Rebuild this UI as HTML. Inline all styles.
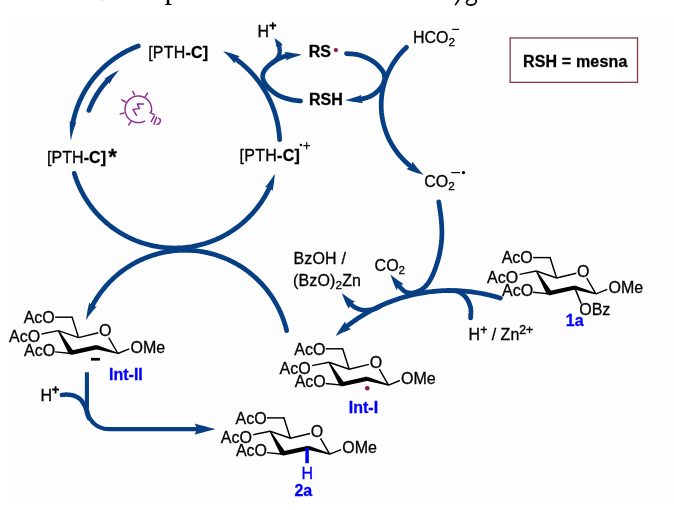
<!DOCTYPE html>
<html><head><meta charset="utf-8"><title>Mechanism</title>
<style>
html,body{margin:0;padding:0;background:#fff;}
body{width:674px;height:510px;overflow:hidden;position:relative;font-family:"Liberation Sans",sans-serif;}
#panel{position:absolute;left:8px;top:23px;width:666px;height:475px;background:#fdfdfd;}
#hdr{position:absolute;left:0;top:0;width:674px;height:22px;overflow:hidden;will-change:transform;}
#hdr span{position:absolute;font-family:"Liberation Serif",serif;color:#000;white-space:nowrap;}
svg{position:absolute;left:0;top:0;will-change:transform;}
svg text{font-family:"Liberation Sans",sans-serif;stroke-width:0.3px;paint-order:stroke;}
</style></head><body>
<div id="panel"></div>
<div id="hdr">
<span style="left:164.6px;top:-28.9px;font-size:31px;line-height:34px;">p</span>
<span style="left:101px;top:-2.5px;width:2px;height:3px;background:#ccc;border-radius:1px;"></span>
</div>
<svg width="674" height="510" viewBox="0 0 674 510">
<path d="M459.3 -1 L455.6 4.6" fill="none" stroke="#000" stroke-width="1.7" stroke-linecap="round"/>
<ellipse cx="471.4" cy="1.9" rx="4.9" ry="3.1" fill="none" stroke="#000" stroke-width="1.7" transform="rotate(-12 471.4 1.9)"/>
<path d="M138.37 45.97 L137.41 46.33 L136.45 46.70 L135.49 47.08 L134.54 47.48 L133.59 47.88 L132.64 48.29 L131.70 48.70 L130.77 49.13 L129.83 49.57 L128.91 50.02 L127.98 50.47 L127.06 50.94 L126.15 51.41 L125.24 51.90 L124.34 52.39 L123.44 52.89 L122.54 53.40 L121.65 53.92 L120.77 54.45 L119.89 54.99 L119.02 55.53 L118.15 56.09 L117.29 56.65 L116.43 57.22 L115.58 57.80 L114.74 58.39 L113.90 58.99 L113.06 59.59 L112.24 60.20 L111.42 60.83 L110.60 61.46 L109.79 62.09 L108.99 62.74 L108.20 63.39 L107.41 64.06 L106.62 64.73 L105.85 65.40 L105.08 66.09 L104.32 66.78 L103.56 67.48 L102.81 68.19 L102.07 68.90 L101.34 69.63 L100.61 70.36 L99.89 71.09 L99.18 71.84 L98.48 72.59 L97.78 73.35 L97.09 74.11 L96.41 74.88 L95.74 75.66 L95.07 76.45 L94.41 77.24 L93.76 78.04 L93.12 78.84 L92.49 79.65 L91.86 80.47 L91.24 81.30 L90.63 82.13 L90.03 82.96 L89.44 83.80 L88.85 84.65 L88.28 85.51 L87.71 86.36 L87.15 87.23 L86.60 88.10 L86.06 88.98 L85.52 89.86 L85.00 90.74 L84.49 91.63 L83.98 92.53 L83.48 93.43 L82.99 94.34 L82.51 95.25 L82.04 96.17 L81.58 97.09 L81.13 98.01 L80.69 98.94 L80.25 99.88 L79.83 100.81 L79.42 101.76 L79.01 102.70 L78.61 103.65 L78.23 104.61 L77.85 105.57 L77.48 106.53 L77.13 107.50 L76.78 108.46 L76.44 109.44 L76.11 110.41 L75.79 111.39 L75.48 112.37 L75.18 113.36 L74.89 114.35 L74.62 115.34 L74.35 116.33 L74.09 117.33 L73.84 118.33 L73.60 119.33 L73.37 120.33 L73.15 121.34 L72.94 122.35 L72.74 123.36 L72.55 124.35" fill="none" stroke="#063f84" stroke-width="4.75" stroke-linecap="round" stroke-linejoin="round"/>
<path d="M70.89 140.75 L70.70 139.34 L70.52 137.94 L70.36 136.52 L70.22 135.11 L70.10 133.69 L70.00 132.26 L69.92 130.83 L69.86 129.40 L69.82 127.95 L69.79 126.52 L69.79 125.08 L69.81 123.61 L69.85 122.17 L69.90 120.73 L72.64 123.86 L76.36 122.08 L75.86 123.36 L75.37 124.66 L74.90 125.93 L74.45 127.25 L74.01 128.57 L73.60 129.88 L73.20 131.21 L72.81 132.56 L72.45 133.89 L72.10 135.25 L71.77 136.62 L71.46 137.98 L71.17 139.36 L70.89 140.75Z" fill="#063f84"/>
<path d="M88.91 110.41 L89.06 110.02 L89.22 109.62 L89.37 109.22 L89.53 108.83 L89.69 108.43 L89.85 108.04 L90.01 107.65 L90.18 107.26 L90.35 106.86 L90.52 106.47 L90.69 106.08 L90.86 105.69 L91.03 105.31 L91.21 104.92 L91.39 104.53 L91.57 104.15 L91.75 103.76 L91.93 103.38 L92.12 102.99 L92.30 102.61 L92.49 102.23 L92.68 101.85 L92.88 101.47 L93.07 101.09 L93.27 100.71 L93.46 100.34 L93.66 99.96 L93.86 99.59 L94.07 99.21 L94.27 98.84 L94.48 98.47 L94.69 98.10 L94.90 97.72 L95.11 97.36 L95.32 96.99 L95.53 96.62 L95.75 96.25 L95.97 95.89 L96.19 95.52 L96.41 95.16 L96.64 94.80 L96.86 94.44 L97.09 94.08 L97.32 93.72 L97.55 93.36 L97.78 93.00 L98.01 92.65 L98.25 92.29 L98.48 91.94 L98.72 91.59 L98.96 91.23 L99.20 90.88 L99.45 90.54 L99.69 90.19 L99.94 89.84 L100.19 89.49 L100.44 89.15 L100.69 88.81 L100.94 88.46 L101.19 88.12 L101.45 87.78 L101.71 87.44 L101.97 87.11 L102.23 86.77 L102.49 86.44 L102.76 86.10 L103.02 85.77 L103.29 85.44 L103.56 85.11 L103.83 84.78 L104.10 84.45 L104.37 84.13 L104.65 83.80 L104.92 83.48 L105.20 83.15 L105.48 82.83 L105.76 82.51 L106.04 82.20 L106.33 81.88 L106.61 81.56 L106.90 81.25 L107.19 80.93 L107.48 80.62 L107.77 80.31 L108.06 80.00 L108.33 79.72" fill="none" stroke="#063f84" stroke-width="4.75" stroke-linecap="round" stroke-linejoin="round"/>
<path d="M119.16 70.09 L118.35 71.03 L117.56 71.98 L116.79 72.94 L116.03 73.91 L115.28 74.88 L114.56 75.86 L113.84 76.86 L113.14 77.85 L112.46 78.86 L111.80 79.86 L111.15 80.88 L110.52 81.90 L109.90 82.93 L109.29 83.97 L107.99 80.08 L103.97 79.12 L105.00 78.38 L106.05 77.64 L107.11 76.91 L108.18 76.21 L109.25 75.52 L110.33 74.85 L111.41 74.19 L112.50 73.56 L113.60 72.94 L114.70 72.34 L115.81 71.75 L116.92 71.18 L118.04 70.63 L119.16 70.09Z" fill="#063f84"/>
<path d="M74.32 173.39 L74.98 175.52 L75.69 177.63 L76.44 179.73 L77.24 181.81 L78.08 183.87 L78.97 185.92 L79.90 187.95 L80.87 189.95 L81.88 191.94 L82.94 193.90 L84.04 195.84 L85.18 197.76 L86.36 199.65 L87.58 201.51 L88.83 203.35 L90.13 205.17 L91.47 206.95 L92.84 208.71 L94.25 210.43 L95.70 212.13 L97.19 213.79 L98.70 215.42 L100.26 217.02 L101.84 218.59 L103.46 220.12 L105.11 221.62 L106.80 223.08 L108.51 224.51 L110.26 225.89 L112.03 227.25 L113.83 228.56 L115.66 229.83 L117.52 231.07 L119.40 232.26 L121.30 233.42 L123.23 234.53 L125.19 235.61 L127.16 236.64 L129.16 237.63 L131.18 238.57 L133.22 239.48 L135.28 240.34 L137.35 241.15 L139.44 241.92 L141.55 242.65 L143.67 243.33 L145.81 243.96 L147.96 244.55 L150.12 245.10 L152.30 245.60 L154.48 246.05 L156.67 246.45 L158.87 246.81 L161.08 247.12 L163.29 247.39 L165.51 247.60 L167.73 247.77 L169.96 247.90 L172.19 247.97 L174.42 248.00 L176.65 247.98 L178.87 247.91 L181.10 247.80 L183.32 247.64 L185.54 247.43 L187.76 247.17 L189.97 246.87 L192.17 246.52 L194.36 246.12 L196.55 245.67 L198.72 245.18 L200.89 244.65 L203.04 244.06 L205.18 243.44 L207.30 242.76 L209.41 242.04 L211.51 241.28 L213.58 240.47 L215.64 239.62 L217.69 238.72 L219.71 237.78 L221.71 236.80 L223.69 235.78 L225.65 234.71 L227.58 233.61 L229.49 232.46 L231.38 231.27 L233.24 230.04 L235.07 228.77 L236.88 227.46 L238.66 226.12 L240.40 224.74 L242.12 223.32 L243.81 221.86 L245.47 220.37 L247.09 218.84 L248.69 217.28 L250.24 215.69 L251.77 214.06 L253.26 212.40 L254.71 210.71 L256.13 208.99 L257.51 207.24 L258.85 205.46 L260.16 203.65 L261.42 201.82 L262.65 199.96 L263.83 198.07 L264.98 196.16 L266.08 194.22 L267.15 192.26 L268.17 190.28 L269.15 188.28 L269.78 186.91" fill="none" stroke="#063f84" stroke-width="4.75" stroke-linecap="round" stroke-linejoin="round"/>
<path d="M274.78 173.74 L274.71 174.96 L274.63 176.19 L274.53 177.41 L274.42 178.65 L274.30 179.87 L274.16 181.12 L274.01 182.33 L273.83 183.59 L273.65 184.80 L273.44 186.06 L273.24 187.27 L272.99 188.54 L272.77 189.74 L272.48 191.01 L269.57 187.36 L264.94 187.32 L265.69 186.46 L266.46 185.51 L267.19 184.63 L267.94 183.66 L268.66 182.74 L269.39 181.76 L270.09 180.81 L270.80 179.82 L271.48 178.84 L272.17 177.83 L272.83 176.83 L273.49 175.80 L274.14 174.78 L274.78 173.74Z" fill="#063f84"/>
<path d="M279.60 139.71 L279.56 138.79 L279.50 137.88 L279.44 136.96 L279.37 136.05 L279.29 135.14 L279.20 134.23 L279.11 133.31 L279.00 132.40 L278.89 131.49 L278.77 130.58 L278.65 129.68 L278.51 128.77 L278.37 127.87 L278.22 126.96 L278.06 126.06 L277.90 125.16 L277.73 124.26 L277.54 123.36 L277.35 122.46 L277.16 121.57 L276.95 120.67 L276.74 119.78 L276.52 118.89 L276.29 118.01 L276.06 117.12 L275.81 116.24 L275.56 115.35 L275.31 114.48 L275.04 113.60 L274.77 112.72 L274.48 111.85 L274.20 110.98 L273.90 110.11 L273.60 109.25 L273.28 108.39 L272.97 107.53 L272.64 106.67 L272.31 105.82 L271.96 104.97 L271.62 104.12 L271.26 103.28 L270.90 102.44 L270.53 101.60 L270.15 100.76 L269.76 99.93 L269.37 99.10 L268.97 98.28 L268.57 97.46 L268.15 96.64 L267.73 95.82 L267.30 95.01 L266.87 94.21 L266.43 93.40 L265.98 92.61 L265.52 91.81 L265.06 91.02 L264.59 90.23 L264.11 89.45 L263.63 88.67 L263.14 87.90 L262.65 87.13 L262.14 86.36 L261.63 85.60 L261.12 84.84 L260.59 84.09 L260.06 83.34 L259.53 82.60 L258.99 81.86 L258.44 81.12 L257.88 80.39 L257.32 79.67 L256.75 78.95 L256.18 78.24 L255.60 77.53 L255.01 76.82 L254.42 76.12 L253.82 75.43 L253.22 74.74 L252.61 74.06 L251.99 73.38 L251.37 72.71 L250.74 72.04 L250.11 71.38 L249.47 70.72 L248.82 70.07 L248.17 69.42 L247.52 68.78 L246.86 68.15 L246.19 67.52 L245.52 66.90 L244.84 66.28 L244.15 65.67 L243.47 65.07 L242.77 64.47 L242.07 63.88 L241.37 63.29 L240.66 62.71 L239.95 62.14 L239.23 61.57 L238.50 61.01 L237.77 60.45 L237.04 59.90 L236.30 59.36 L235.56 58.82 L235.10 58.50" fill="none" stroke="#063f84" stroke-width="4.75" stroke-linecap="round" stroke-linejoin="round"/>
<path d="M223.08 51.15 L224.27 51.44 L225.46 51.74 L226.65 52.05 L227.85 52.38 L229.04 52.73 L230.22 53.08 L231.42 53.46 L232.61 53.85 L233.79 54.25 L234.96 54.67 L236.16 55.12 L237.33 55.56 L238.50 56.02 L239.70 56.52 L235.51 58.79 L234.55 63.41 L233.83 62.50 L233.07 61.58 L232.30 60.67 L231.54 59.77 L230.75 58.87 L229.94 57.98 L229.12 57.10 L228.31 56.23 L227.46 55.36 L226.61 54.50 L225.75 53.65 L224.87 52.81 L223.98 51.98 L223.08 51.15Z" fill="#063f84"/>
<path d="M144.54 121.04 L143.84 121.39 L143.11 121.70 L142.37 121.96 L141.61 122.18 L140.84 122.36 L140.06 122.48 L139.27 122.56 L138.49 122.60 L137.70 122.59 L136.91 122.53 L136.13 122.42 L135.35 122.27 L134.59 122.07 L133.84 121.83 L133.10 121.54 L132.39 121.21 L131.69 120.84 L131.02 120.43 L130.37 119.98 L129.75 119.49 L129.16 118.96 L128.60 118.40 L128.08 117.81 L127.59 117.19 L127.15 116.54 L126.74 115.87 L126.37 115.17 L126.04 114.45 L125.76 113.72 L125.52 112.97 L125.32 112.20 L125.17 111.43 L125.07 110.64 L125.01 109.86 L125.00 109.07 L125.04 108.28 L125.12 107.49 L125.25 106.72 L125.43 105.95 L125.65 105.19 L125.92 104.45 L126.23 103.72 L126.58 103.02 L126.97 102.33 L127.41 101.67 L127.88 101.04 L128.39 100.44 L128.93 99.86 L129.50 99.32 L130.11 98.82 L130.75 98.35 L131.41 97.92 L132.10 97.54 L132.81 97.19 L133.53 96.88 L134.28 96.62 L135.04 96.41 L135.81 96.24 L136.59 96.11 L137.37 96.03 L138.16 96.00 L138.95 96.02 L139.74 96.08 L140.52 96.19 L141.29 96.34 L142.06 96.54 L142.81 96.79 L143.54 97.08 L144.26 97.41 L144.95 97.78 L145.62 98.20 L146.27 98.65 L146.88 99.14 L147.47 99.67 L148.03 100.23 L148.55 100.82 L149.03 101.44 L149.48 102.10 L149.89 102.77 L150.25 103.47 L150.58 104.19 L150.86 104.93 L151.10 105.68 L151.29 106.44 L151.44 107.22 L151.54 108.00 L151.59 108.79 L151.60 109.58 L151.56 110.37 L151.47 111.15" fill="none" stroke="#8c2a8e" stroke-width="1.45" stroke-linecap="round" stroke-linejoin="round"/>
<path d="M151.40 111.40 L150.20 112.60 L154.20 114.60" fill="none" stroke="#8c2a8e" stroke-width="1.45" stroke-linecap="round" stroke-linejoin="round"/>
<path d="M151.30 121.60 L154.20 116.20" fill="none" stroke="#8c2a8e" stroke-width="1.45" stroke-linecap="round" stroke-linejoin="round"/>
<path d="M154.00 124.20 L156.60 117.20" fill="none" stroke="#8c2a8e" stroke-width="1.45" stroke-linecap="round" stroke-linejoin="round"/>
<path d="M157.00 124.40 L158.60 124.00 L160.40 121.40 L160.20 119.40 L158.80 118.20" fill="none" stroke="#8c2a8e" stroke-width="1.45" stroke-linecap="round" stroke-linejoin="round"/>
<path d="M143.40 103.90 L137.30 103.90 L139.40 108.60 L133.00 109.40 L136.50 115.30" fill="none" stroke="#8c2a8e" stroke-width="1.45" stroke-linecap="round" stroke-linejoin="round"/>
<path d="M132.90 91.40 L134.50 94.90" fill="none" stroke="#8c2a8e" stroke-width="1.45" stroke-linecap="round" stroke-linejoin="round"/>
<path d="M147.60 93.20 L145.10 96.80" fill="none" stroke="#8c2a8e" stroke-width="1.45" stroke-linecap="round" stroke-linejoin="round"/>
<path d="M121.80 99.80 L125.60 102.00" fill="none" stroke="#8c2a8e" stroke-width="1.45" stroke-linecap="round" stroke-linejoin="round"/>
<path d="M120.20 114.10 L124.10 112.90" fill="none" stroke="#8c2a8e" stroke-width="1.45" stroke-linecap="round" stroke-linejoin="round"/>
<path d="M128.60 124.90 L130.90 121.80" fill="none" stroke="#8c2a8e" stroke-width="1.45" stroke-linecap="round" stroke-linejoin="round"/>
<path d="M300.60 101.00 L300.39 100.97 L300.15 100.94 L299.89 100.91 L299.60 100.88 L299.28 100.85 L298.95 100.82 L298.59 100.78 L298.22 100.74 L297.83 100.70 L297.43 100.66 L297.01 100.62 L296.59 100.57 L296.15 100.52 L295.71 100.46 L295.26 100.41 L294.80 100.34 L294.34 100.28 L293.88 100.21 L293.42 100.14 L292.97 100.06 L292.52 99.98 L292.07 99.89 L291.63 99.80 L291.20 99.70 L290.77 99.60 L290.33 99.49 L289.88 99.38 L289.43 99.27 L288.97 99.15 L288.50 99.02 L288.03 98.90 L287.55 98.77 L287.07 98.63 L286.59 98.49 L286.11 98.35 L285.63 98.21 L285.15 98.06 L284.67 97.90 L284.20 97.75 L283.73 97.59 L283.26 97.43 L282.80 97.26 L282.34 97.09 L281.90 96.92 L281.46 96.74 L281.03 96.57 L280.61 96.38 L280.20 96.20 L279.80 96.01 L279.41 95.82 L279.02 95.63 L278.64 95.43 L278.27 95.22 L277.90 95.02 L277.53 94.81 L277.17 94.60 L276.82 94.38 L276.46 94.16 L276.12 93.94 L275.77 93.71 L275.44 93.48 L275.10 93.25 L274.77 93.02 L274.44 92.78 L274.12 92.54 L273.79 92.30 L273.47 92.06 L273.15 91.81 L272.84 91.56 L272.52 91.31 L272.21 91.06 L271.90 90.80 L271.59 90.54 L271.28 90.28 L270.97 90.01 L270.65 89.73 L270.34 89.45 L270.03 89.17 L269.73 88.89 L269.42 88.60 L269.12 88.30 L268.82 88.01 L268.53 87.72 L268.24 87.42 L267.95 87.12 L267.67 86.82 L267.40 86.52 L267.13 86.23 L266.87 85.93 L266.62 85.63 L266.38 85.34 L266.14 85.04 L265.92 84.75 L265.70 84.47 L265.50 84.18 L265.30 83.90 L265.11 83.62 L264.94 83.34 L264.77 83.06 L264.61 82.78 L264.45 82.50 L264.30 82.23 L264.17 81.95 L264.03 81.67 L263.91 81.39 L263.79 81.12 L263.68 80.84 L263.57 80.57 L263.48 80.30 L263.39 80.02 L263.30 79.75 L263.22 79.49 L263.15 79.22 L263.08 78.95 L263.02 78.69 L262.97 78.43 L262.92 78.17 L262.87 77.91 L262.83 77.65 L262.80 77.40 L262.77 77.15 L262.75 76.90 L262.74 76.66 L262.73 76.41 L262.72 76.17 L262.73 75.93 L262.74 75.69 L262.76 75.46 L262.78 75.23 L262.81 74.99 L262.84 74.76 L262.88 74.53 L262.93 74.30 L262.98 74.07 L263.04 73.85 L263.10 73.62 L263.17 73.39 L263.24 73.16 L263.32 72.94 L263.41 72.71 L263.50 72.48 L263.59 72.26 L263.69 72.03 L263.80 71.80 L263.91 71.57 L264.03 71.34 L264.16 71.11 L264.29 70.88 L264.43 70.65 L264.58 70.42 L264.73 70.19 L264.89 69.96 L265.06 69.73 L265.23 69.51 L265.40 69.28 L265.58 69.05 L265.77 68.82 L265.95 68.60 L266.15 68.37 L266.34 68.15 L266.54 67.93 L266.74 67.70 L266.95 67.48 L267.15 67.26 L267.36 67.04 L267.57 66.83 L267.79 66.61 L268.00 66.40 L268.22 66.19 L268.44 65.97 L268.67 65.76 L268.91 65.55 L269.15 65.34 L269.39 65.13 L269.64 64.92 L269.89 64.71 L270.15 64.50 L270.41 64.29 L270.67 64.09 L270.93 63.88 L271.20 63.68 L271.46 63.48 L271.73 63.28 L272.00 63.08 L272.26 62.89 L272.53 62.69 L272.80 62.50 L273.06 62.32 L273.32 62.13 L273.59 61.95 L273.84 61.77 L274.10 61.60 L274.35 61.43 L274.61 61.26 L274.86 61.09 L275.11 60.93 L275.36 60.76 L275.60 60.60 L275.85 60.44 L276.10 60.29 L276.35 60.14 L276.60 59.98 L276.84 59.83 L277.09 59.69 L277.34 59.54 L277.59 59.40 L277.85 59.26 L278.10 59.12 L278.35 58.99 L278.61 58.85 L278.87 58.72 L279.13 58.59 L279.39 58.47 L279.66 58.34 L279.93 58.22 L280.20 58.10 L280.47 57.98 L280.73 57.87 L280.98 57.76 L281.22 57.65 L281.47 57.54 L281.70 57.44 L281.94 57.33 L282.18 57.23 L282.42 57.14 L282.66 57.04 L282.90 56.95 L283.16 56.86 L283.42 56.77 L283.68 56.68 L283.96 56.59 L284.26 56.51 L284.56 56.43 L284.88 56.35 L285.22 56.27 L285.57 56.19 L285.95 56.12 L286.34 56.04 L286.76 55.97 L287.20 55.90 L287.55 55.85" fill="none" stroke="#063f84" stroke-width="4.75" stroke-linecap="round" stroke-linejoin="round"/>
<path d="M302.00 54.70 L300.81 55.09 L299.62 55.46 L298.42 55.84 L297.23 56.22 L296.04 56.60 L294.86 56.98 L293.68 57.37 L292.50 57.76 L291.33 58.16 L290.19 58.56 L289.07 58.98 L288.00 59.42 L287.00 59.89 L286.04 60.39 L287.05 55.92 L284.14 52.21 L285.56 52.22 L286.96 52.30 L288.30 52.43 L289.59 52.59 L290.86 52.78 L292.12 52.97 L293.36 53.18 L294.60 53.39 L295.84 53.60 L297.07 53.82 L298.31 54.04 L299.54 54.27 L300.77 54.49 L302.00 54.70Z" fill="#063f84"/>
<path d="M272.00 63.20 L272.09 63.12 L272.20 63.04 L272.32 62.94 L272.45 62.83 L272.60 62.72 L272.75 62.59 L272.92 62.46 L273.09 62.33 L273.27 62.18 L273.45 62.03 L273.64 61.88 L273.84 61.73 L274.03 61.57 L274.23 61.40 L274.43 61.24 L274.62 61.07 L274.82 60.91 L275.00 60.74 L275.19 60.58 L275.37 60.42 L275.54 60.26 L275.70 60.10 L275.86 59.95 L276.00 59.80 L276.14 59.65 L276.27 59.51 L276.40 59.36 L276.53 59.21 L276.66 59.06 L276.79 58.91 L276.91 58.76 L277.03 58.61 L277.15 58.46 L277.27 58.31 L277.38 58.16 L277.49 58.01 L277.60 57.86 L277.71 57.71 L277.81 57.56 L277.91 57.41 L278.01 57.26 L278.10 57.10 L278.19 56.95 L278.28 56.80 L278.37 56.65 L278.45 56.50 L278.53 56.35 L278.60 56.20 L278.67 56.05 L278.74 55.90 L278.80 55.75 L278.86 55.59 L278.91 55.44 L278.96 55.29 L279.01 55.13 L279.05 54.98 L279.09 54.82 L279.13 54.67 L279.17 54.52 L279.20 54.36 L279.23 54.21 L279.26 54.06 L279.29 53.91 L279.31 53.76 L279.34 53.61 L279.36 53.46 L279.39 53.31 L279.41 53.17 L279.43 53.02 L279.45 52.88 L279.48 52.74 L279.50 52.60 L279.52 52.46 L279.54 52.33 L279.57 52.21 L279.59 52.08 L279.60 51.97 L279.62 51.85 L279.64 51.73 L279.66 51.62 L279.67 51.51 L279.68 51.39 L279.70 51.28 L279.71 51.17 L279.72 51.06 L279.72 50.94 L279.73 50.82 L279.73 50.70 L279.74 50.58 L279.74 50.46 L279.74 50.33 L279.73 50.19 L279.73 50.05 L279.72 49.91 L279.71 49.76 L279.70 49.60 L279.69 49.44 L279.67 49.26 L279.66 49.08 L279.64 48.90 L279.62 48.70 L279.60 48.51 L279.57 48.31 L279.55 48.10 L279.52 47.89 L279.49 47.68 L279.46 47.47 L279.43 47.26 L279.40 47.04 L279.36 46.83 L279.32 46.62 L279.29 46.41 L279.24 46.20 L279.20 46.00 L279.16 45.80 L279.11 45.61 L279.06 45.42 L279.01 45.24 L278.96 45.07 L278.90 44.90 L278.86 44.79" fill="none" stroke="#063f84" stroke-width="4.40" stroke-linecap="round" stroke-linejoin="round"/>
<path d="M274.50 38.10 L275.09 38.52 L275.68 38.94 L276.27 39.36 L276.86 39.78 L277.45 40.21 L278.04 40.64 L278.61 41.06 L279.16 41.41 L279.78 41.83 L280.46 42.39 L281.12 43.08 L281.76 43.98 L282.24 44.75 L282.68 45.55 L279.02 45.27 L275.82 46.92 L275.96 46.40 L276.06 45.87 L276.19 45.51 L276.20 45.01 L276.12 44.45 L275.94 43.77 L275.71 43.02 L275.53 42.30 L275.37 41.60 L275.20 40.90 L275.03 40.20 L274.85 39.50 L274.68 38.80 L274.50 38.10Z" fill="#063f84"/>
<path d="M346.50 53.60 L346.79 53.63 L347.12 53.66 L347.49 53.68 L347.89 53.71 L348.33 53.73 L348.80 53.76 L349.29 53.78 L349.81 53.81 L350.36 53.84 L350.92 53.88 L351.50 53.91 L352.09 53.96 L352.70 54.00 L353.32 54.06 L353.94 54.12 L354.56 54.19 L355.19 54.27 L355.82 54.35 L356.44 54.45 L357.05 54.55 L357.66 54.67 L358.26 54.80 L358.84 54.94 L359.40 55.10 L359.96 55.27 L360.53 55.45 L361.11 55.64 L361.69 55.84 L362.28 56.06 L362.88 56.28 L363.48 56.51 L364.09 56.75 L364.69 57.00 L365.29 57.26 L365.90 57.52 L366.50 57.79 L367.10 58.07 L367.69 58.35 L368.28 58.64 L368.86 58.94 L369.43 59.23 L369.99 59.54 L370.55 59.84 L371.09 60.15 L371.61 60.46 L372.12 60.77 L372.62 61.09 L373.10 61.40 L373.57 61.72 L374.03 62.05 L374.49 62.39 L374.94 62.74 L375.38 63.10 L375.81 63.47 L376.24 63.84 L376.66 64.22 L377.07 64.60 L377.47 64.99 L377.87 65.37 L378.25 65.76 L378.62 66.15 L378.99 66.54 L379.34 66.93 L379.69 67.31 L380.02 67.70 L380.34 68.07 L380.65 68.45 L380.94 68.81 L381.23 69.17 L381.50 69.53 L381.76 69.87 L382.00 70.20 L382.23 70.52 L382.45 70.84 L382.65 71.14 L382.84 71.44 L383.02 71.73 L383.19 72.01 L383.35 72.29 L383.49 72.57 L383.63 72.84 L383.75 73.11 L383.86 73.38 L383.96 73.65 L384.05 73.92 L384.14 74.19 L384.21 74.46 L384.27 74.73 L384.33 75.01 L384.38 75.29 L384.42 75.57 L384.45 75.86 L384.47 76.16 L384.49 76.46 L384.50 76.78 L384.50 77.10 L384.50 77.43 L384.49 77.77 L384.47 78.11 L384.45 78.46 L384.42 78.81 L384.38 79.17 L384.33 79.53 L384.27 79.89 L384.21 80.26 L384.14 80.63 L384.05 81.01 L383.96 81.38 L383.86 81.76 L383.75 82.14 L383.63 82.52 L383.49 82.90 L383.35 83.28 L383.19 83.66 L383.02 84.03 L382.84 84.41 L382.65 84.79 L382.45 85.16 L382.23 85.53 L382.00 85.90 L381.75 86.27 L381.49 86.65 L381.21 87.03 L380.92 87.42 L380.61 87.81 L380.29 88.21 L379.96 88.60 L379.61 89.00 L379.25 89.40 L378.89 89.79 L378.51 90.19 L378.12 90.58 L377.73 90.97 L377.33 91.35 L376.92 91.73 L376.51 92.10 L376.09 92.46 L375.67 92.82 L375.25 93.16 L374.82 93.49 L374.39 93.82 L373.96 94.12 L373.53 94.42 L373.10 94.70 L372.67 94.97 L372.24 95.23 L371.80 95.47 L371.36 95.71 L370.92 95.94 L370.48 96.16 L370.02 96.38 L369.57 96.58 L369.11 96.78 L368.65 96.97 L368.18 97.15 L367.70 97.33 L367.22 97.49 L366.73 97.66 L366.23 97.81 L365.73 97.96 L365.22 98.11 L364.70 98.25 L364.17 98.38 L363.64 98.51 L363.09 98.64 L362.54 98.76 L361.97 98.88 L361.40 99.00 L360.80 99.11 L360.16 99.21 L359.77 99.27" fill="none" stroke="#063f84" stroke-width="4.75" stroke-linecap="round" stroke-linejoin="round"/>
<path d="M345.30 100.20 L346.50 99.83 L347.70 99.48 L348.90 99.13 L350.10 98.78 L351.30 98.43 L352.49 98.07 L353.67 97.71 L354.83 97.33 L356.00 96.95 L357.13 96.55 L358.27 96.13 L359.34 95.69 L360.33 95.23 L361.36 94.72 L360.26 99.20 L363.10 102.94 L361.74 102.90 L360.33 102.82 L358.99 102.69 L357.71 102.52 L356.42 102.33 L355.17 102.12 L353.91 101.90 L352.67 101.67 L351.43 101.43 L350.20 101.18 L348.97 100.93 L347.75 100.68 L346.53 100.43 L345.30 100.20Z" fill="#063f84"/>
<path d="M406.53 47.29 L405.62 48.15 L404.71 49.02 L403.82 49.90 L402.95 50.81 L402.09 51.72 L401.24 52.65 L400.41 53.59 L399.59 54.54 L398.79 55.51 L398.01 56.49 L397.24 57.48 L396.49 58.49 L395.75 59.50 L395.03 60.53 L394.33 61.57 L393.64 62.62 L392.97 63.68 L392.32 64.76 L391.68 65.84 L391.06 66.93 L390.46 68.03 L389.88 69.15 L389.31 70.27 L388.77 71.40 L388.24 72.53 L387.73 73.68 L387.23 74.84 L386.76 76.00 L386.31 77.17 L385.87 78.35 L385.45 79.53 L385.05 80.72 L384.67 81.92 L384.31 83.12 L383.97 84.33 L383.65 85.54 L383.35 86.76 L383.07 87.98 L382.81 89.21 L382.56 90.44 L382.34 91.68 L382.14 92.92 L381.95 94.16 L381.79 95.40 L381.65 96.65 L381.52 97.90 L381.42 99.15 L381.33 100.41 L381.27 101.66 L381.23 102.91 L381.20 104.17 L381.20 105.42 L381.22 106.68 L381.25 107.93 L381.31 109.19 L381.39 110.44 L381.49 111.69 L381.60 112.94 L381.74 114.19 L381.90 115.44 L382.07 116.68 L382.27 117.92 L382.49 119.16 L382.73 120.39 L382.98 121.62 L383.26 122.84 L383.55 124.06 L383.87 125.28 L384.20 126.49 L384.56 127.69 L384.93 128.89 L385.32 130.08 L385.73 131.27 L386.16 132.45 L386.61 133.62 L387.08 134.79 L387.57 135.94 L388.07 137.09 L388.59 138.24 L389.13 139.37 L389.69 140.49 L390.27 141.61 L390.87 142.71 L391.48 143.81 L392.11 144.89 L392.76 145.97 L393.42 147.03 L394.10 148.09 L394.80 149.13 L395.52 150.16 L396.25 151.18 L397.00 152.19 L397.76 153.19 L398.54 154.17 L399.33 155.15 L400.14 156.10 L400.97 157.05 L401.81 157.98 L402.67 158.90 L403.54 159.80 L404.42 160.70 L405.32 161.57 L406.23 162.43 L407.16 163.28 L408.10 164.11 L409.05 164.93 L410.02 165.73 L411.00 166.52 L411.44 166.86" fill="none" stroke="#063f84" stroke-width="4.75" stroke-linecap="round" stroke-linejoin="round"/>
<path d="M423.64 174.67 L422.41 174.41 L421.17 174.12 L419.94 173.82 L418.70 173.49 L417.47 173.14 L416.23 172.77 L415.00 172.37 L413.77 171.96 L412.54 171.52 L411.31 171.06 L410.09 170.57 L408.86 170.07 L407.65 169.54 L406.43 168.99 L411.05 166.56 L412.56 161.60 L413.23 162.59 L413.91 163.57 L414.62 164.55 L415.34 165.51 L416.09 166.47 L416.85 167.42 L417.63 168.36 L418.43 169.29 L419.25 170.21 L420.09 171.13 L420.95 172.03 L421.83 172.92 L422.73 173.80 L423.64 174.67Z" fill="#063f84"/>
<path d="M438.80 201.80 L438.86 202.20 L438.92 202.65 L439.00 203.16 L439.08 203.71 L439.17 204.32 L439.27 204.96 L439.38 205.64 L439.49 206.36 L439.60 207.11 L439.72 207.88 L439.84 208.68 L439.96 209.49 L440.08 210.33 L440.21 211.17 L440.33 212.02 L440.44 212.87 L440.56 213.73 L440.67 214.58 L440.78 215.42 L440.88 216.26 L440.97 217.07 L441.06 217.87 L441.13 218.65 L441.20 219.40 L441.26 220.14 L441.32 220.87 L441.38 221.61 L441.44 222.35 L441.49 223.08 L441.55 223.82 L441.60 224.56 L441.64 225.30 L441.69 226.03 L441.73 226.77 L441.77 227.51 L441.80 228.25 L441.83 228.99 L441.85 229.73 L441.87 230.47 L441.89 231.20 L441.90 231.94 L441.90 232.68 L441.90 233.42 L441.89 234.15 L441.88 234.89 L441.86 235.63 L441.83 236.36 L441.80 237.10 L441.76 237.84 L441.71 238.57 L441.66 239.31 L441.60 240.06 L441.54 240.80 L441.47 241.54 L441.40 242.28 L441.32 243.03 L441.23 243.77 L441.14 244.51 L441.05 245.25 L440.95 245.99 L440.85 246.73 L440.74 247.47 L440.62 248.21 L440.50 248.94 L440.38 249.67 L440.25 250.40 L440.12 251.13 L439.99 251.85 L439.84 252.57 L439.70 253.28 L439.55 253.99 L439.40 254.70 L439.24 255.41 L439.08 256.11 L438.91 256.82 L438.73 257.53 L438.54 258.24 L438.35 258.95 L438.16 259.66 L437.96 260.37 L437.75 261.08 L437.55 261.78 L437.33 262.48 L437.12 263.17 L436.90 263.86 L436.68 264.54 L436.46 265.22 L436.23 265.89 L436.00 266.55 L435.77 267.20 L435.55 267.84 L435.32 268.48 L435.09 269.10 L434.86 269.71 L434.63 270.31 L434.40 270.90 L434.17 271.48 L433.94 272.05 L433.72 272.61 L433.48 273.16 L433.25 273.71 L433.02 274.24 L432.79 274.77 L432.55 275.29 L432.31 275.81 L432.08 276.31 L431.84 276.81 L431.59 277.30 L431.35 277.78 L431.10 278.26 L430.85 278.73 L430.60 279.19 L430.35 279.64 L430.09 280.08 L429.84 280.52 L429.57 280.95 L429.31 281.37 L429.04 281.79 L428.77 282.20 L428.50 282.60 L428.22 282.99 L427.94 283.38 L427.66 283.76 L427.37 284.13 L427.07 284.50 L426.78 284.86 L426.48 285.21 L426.17 285.55 L425.87 285.89 L425.56 286.22 L425.25 286.54 L424.94 286.85 L424.63 287.16 L424.32 287.45 L424.01 287.74 L423.69 288.03 L423.38 288.30 L423.06 288.57 L422.75 288.83 L422.44 289.08 L422.13 289.32 L421.82 289.55 L421.51 289.78 L421.20 290.00 L420.89 290.21 L420.56 290.41 L420.23 290.60 L419.89 290.78 L419.54 290.95 L419.18 291.11 L418.83 291.26 L418.47 291.41 L418.11 291.54 L417.75 291.67 L417.39 291.80 L417.04 291.91 L416.70 292.02 L416.36 292.13 L416.04 292.22 L415.72 292.31 L415.42 292.40 L415.13 292.48 L414.86 292.56 L414.61 292.64 L414.37 292.71 L414.16 292.77 L413.97 292.84 L413.80 292.90" fill="none" stroke="#063f84" stroke-width="4.75" stroke-linecap="round" stroke-linejoin="round"/>
<path d="M421.20 290.00 L421.03 290.07 L420.85 290.15 L420.64 290.25 L420.41 290.37 L420.17 290.49 L419.90 290.62 L419.63 290.76 L419.33 290.91 L419.03 291.06 L418.71 291.22 L418.39 291.38 L418.05 291.54 L417.71 291.69 L417.36 291.85 L417.00 292.00 L416.64 292.14 L416.28 292.28 L415.92 292.41 L415.56 292.53 L415.20 292.63 L414.84 292.72 L414.49 292.80 L414.14 292.86 L413.80 292.90 L413.46 292.93 L413.11 292.95 L412.76 292.97 L412.40 292.98 L412.03 292.99 L411.67 292.99 L411.29 292.99 L410.92 292.97 L410.54 292.95 L410.16 292.93 L409.78 292.89 L409.40 292.84 L409.02 292.79 L408.64 292.73 L408.26 292.65 L407.88 292.57 L407.51 292.48 L407.13 292.37 L406.77 292.26 L406.40 292.13 L406.04 291.99 L405.69 291.84 L405.34 291.68 L405.00 291.50 L404.66 291.31 L404.33 291.10 L404.01 290.88 L403.68 290.64 L403.36 290.39 L403.05 290.12 L402.73 289.85 L402.42 289.56 L402.11 289.26 L401.81 288.95 L401.50 288.64 L401.20 288.31 L400.90 287.98 L400.60 287.64 L400.30 287.30 L400.00 286.95 L399.70 286.60 L399.40 286.25 L399.10 285.89 L398.81 285.53 L398.51 285.17 L398.44 285.09" fill="none" stroke="#063f84" stroke-width="4.60" stroke-linecap="round" stroke-linejoin="round"/>
<path d="M390.40 274.50 L391.35 275.23 L392.29 275.96 L393.23 276.69 L394.17 277.42 L395.11 278.14 L396.05 278.85 L396.99 279.55 L397.93 280.23 L398.88 280.90 L399.82 281.52 L400.79 282.15 L401.80 282.83 L402.78 283.48 L403.74 284.09 L398.76 285.47 L396.61 290.22 L396.10 289.09 L395.61 287.99 L395.15 286.92 L394.64 285.80 L394.14 284.65 L393.68 283.51 L393.24 282.38 L392.81 281.25 L392.40 280.12 L391.99 278.99 L391.59 277.87 L391.20 276.74 L390.80 275.62 L390.40 274.50Z" fill="#063f84"/>
<path d="M500.43 298.17 L499.01 297.74 L497.60 297.31 L496.18 296.90 L494.76 296.51 L493.33 296.12 L491.90 295.75 L490.47 295.39 L489.04 295.05 L487.60 294.71 L486.15 294.39 L484.71 294.08 L483.26 293.79 L481.81 293.50 L480.36 293.23 L478.91 292.98 L477.45 292.73 L475.99 292.50 L474.53 292.28 L473.07 292.08 L471.61 291.88 L470.14 291.70 L468.67 291.54 L467.20 291.38 L465.73 291.24 L464.26 291.11 L462.79 291.00 L461.32 290.89 L459.84 290.81 L458.37 290.73 L456.89 290.67 L455.42 290.61 L453.94 290.58 L452.47 290.55 L450.99 290.54 L449.51 290.54 L448.03 290.56 L446.56 290.58 L445.08 290.62 L443.61 290.68 L442.13 290.74 L440.66 290.82 L439.18 290.92 L437.71 291.02 L436.24 291.14 L434.77 291.27 L433.30 291.42 L431.83 291.57 L430.36 291.74 L428.90 291.93 L427.43 292.12 L425.97 292.33 L424.51 292.55 L423.05 292.79 L421.60 293.04 L420.14 293.30 L418.69 293.57 L417.24 293.85 L415.80 294.15 L414.35 294.46 L412.91 294.79 L411.47 295.13 L410.04 295.47 L408.61 295.84 L407.18 296.21 L405.75 296.60 L404.33 297.00 L402.91 297.41 L401.50 297.83 L400.09 298.27 L398.68 298.72 L397.28 299.18 L395.88 299.66 L394.49 300.14 L393.10 300.64 L391.71 301.15 L390.33 301.68 L388.95 302.21 L387.58 302.76 L386.22 303.32 L384.85 303.89 L383.50 304.47 L382.15 305.07 L380.80 305.68 L379.46 306.29 L378.12 306.93 L376.79 307.57 L375.47 308.22 L374.15 308.89 L372.84 309.57 L371.53 310.25 L370.23 310.95 L368.94 311.67 L367.65 312.39 L366.37 313.12 L365.10 313.87 L363.83 314.63 L362.57 315.40 L361.31 316.17 L360.06 316.97 L358.82 317.77 L357.59 318.58 L356.36 319.40 L355.15 320.23 L353.93 321.08 L352.73 321.93 L351.53 322.80 L350.34 323.68 L349.16 324.56 L347.99 325.46 L346.82 326.37 L346.07 326.97" fill="none" stroke="#063f84" stroke-width="4.75" stroke-linecap="round" stroke-linejoin="round"/>
<path d="M335.63 335.99 L336.25 334.93 L336.89 333.87 L337.53 332.82 L338.18 331.76 L338.84 330.72 L339.51 329.67 L340.19 328.63 L340.88 327.59 L341.59 326.54 L342.27 325.53 L342.99 324.49 L343.73 323.46 L344.47 322.44 L345.22 321.41 L346.46 326.66 L351.17 329.20 L350.06 329.62 L348.94 330.05 L347.83 330.49 L346.72 330.93 L345.59 331.41 L344.48 331.88 L343.37 332.36 L342.26 332.85 L341.15 333.34 L340.04 333.86 L338.93 334.38 L337.83 334.91 L336.73 335.44 L335.63 335.99Z" fill="#063f84"/>
<path d="M380.00 306.30 L379.87 306.36 L379.73 306.44 L379.58 306.53 L379.43 306.63 L379.26 306.73 L379.08 306.85 L378.89 306.97 L378.69 307.10 L378.47 307.23 L378.25 307.36 L378.02 307.50 L377.78 307.64 L377.53 307.79 L377.27 307.93 L377.00 308.07 L376.71 308.20 L376.42 308.34 L376.12 308.47 L375.81 308.59 L375.49 308.71 L375.16 308.82 L374.81 308.92 L374.46 309.02 L374.10 309.10 L373.72 309.18 L373.32 309.26 L372.91 309.34 L372.47 309.42 L372.02 309.51 L371.55 309.59 L371.07 309.67 L370.58 309.75 L370.08 309.82 L369.57 309.89 L369.05 309.96 L368.53 310.02 L368.00 310.07 L367.47 310.12 L366.94 310.16 L366.41 310.19 L365.88 310.20 L365.36 310.21 L364.85 310.21 L364.34 310.20 L363.84 310.17 L363.34 310.13 L362.87 310.07 L362.40 310.00 L361.94 309.92 L361.49 309.83 L361.05 309.73 L360.60 309.63 L360.16 309.52 L359.73 309.40 L359.30 309.27 L358.87 309.13 L358.44 308.98 L358.01 308.82 L357.59 308.65 L357.17 308.48 L356.75 308.28 L356.33 308.08 L355.91 307.87 L355.49 307.64 L355.07 307.40 L354.65 307.14 L354.23 306.87 L353.81 306.59 L353.38 306.29 L352.96 305.98 L352.53 305.65 L352.10 305.30 L351.66 304.92 L351.20 304.50 L350.73 304.04 L350.25 303.55 L350.06 303.34" fill="none" stroke="#063f84" stroke-width="4.60" stroke-linecap="round" stroke-linejoin="round"/>
<path d="M341.70 293.00 L342.68 293.68 L343.65 294.38 L344.61 295.09 L345.57 295.79 L346.53 296.49 L347.49 297.17 L348.46 297.84 L349.41 298.49 L350.38 299.14 L351.33 299.74 L352.30 300.33 L353.23 300.83 L354.20 301.33 L355.06 301.65 L350.40 303.70 L348.94 308.78 L348.10 307.57 L347.46 306.45 L346.82 305.28 L346.28 304.16 L345.75 303.02 L345.26 301.90 L344.78 300.77 L344.33 299.66 L343.88 298.54 L343.44 297.43 L343.01 296.31 L342.58 295.20 L342.15 294.10 L341.70 293.00Z" fill="#063f84"/>
<path d="M470.60 317.90 L470.60 317.67 L470.61 317.40 L470.63 317.10 L470.65 316.78 L470.68 316.42 L470.71 316.05 L470.74 315.65 L470.77 315.23 L470.81 314.79 L470.84 314.33 L470.87 313.87 L470.89 313.39 L470.92 312.90 L470.93 312.41 L470.94 311.91 L470.95 311.41 L470.94 310.91 L470.93 310.41 L470.91 309.92 L470.87 309.43 L470.82 308.95 L470.76 308.49 L470.69 308.04 L470.60 307.60 L470.50 307.17 L470.38 306.73 L470.26 306.29 L470.13 305.84 L469.98 305.39 L469.83 304.94 L469.67 304.49 L469.50 304.03 L469.33 303.58 L469.14 303.13 L468.95 302.67 L468.75 302.22 L468.54 301.78 L468.33 301.34 L468.11 300.91 L467.89 300.48 L467.65 300.06 L467.42 299.65 L467.18 299.24 L466.93 298.85 L466.68 298.47 L466.42 298.10 L466.16 297.74 L465.90 297.40 L465.63 297.07 L465.35 296.74 L465.07 296.42 L464.78 296.11 L464.48 295.81 L464.18 295.51 L463.87 295.22 L463.55 294.94 L463.23 294.66 L462.90 294.39 L462.56 294.13 L462.22 293.88 L461.88 293.64 L461.54 293.40 L461.18 293.17 L460.83 292.95 L460.47 292.74 L460.11 292.54 L459.75 292.34 L459.38 292.16 L459.01 291.98 L458.64 291.81 L458.27 291.65 L457.90 291.50 L457.52 291.36 L457.11 291.24 L456.69 291.13 L456.25 291.03 L455.79 290.94 L455.33 290.86 L454.85 290.79 L454.37 290.74 L453.89 290.69 L453.41 290.65 L452.93 290.61 L452.45 290.58 L451.98 290.56 L451.52 290.54 L451.07 290.52 L450.64 290.51 L450.22 290.50 L449.82 290.49 L449.45 290.47 L449.10 290.46 L448.78 290.45 L448.48 290.44 L448.22 290.42 L448.00 290.40" fill="none" stroke="#063f84" stroke-width="4.75" stroke-linecap="round" stroke-linejoin="round"/>
<path d="M286.66 330.55 L286.11 328.38 L285.52 326.22 L284.88 324.07 L284.20 321.94 L283.47 319.82 L282.69 317.72 L281.87 315.64 L281.01 313.57 L280.10 311.53 L279.15 309.50 L278.16 307.49 L277.12 305.51 L276.04 303.55 L274.92 301.61 L273.76 299.69 L272.56 297.81 L271.32 295.94 L270.03 294.11 L268.71 292.30 L267.35 290.52 L265.96 288.77 L264.52 287.05 L263.05 285.36 L261.55 283.71 L260.01 282.08 L258.43 280.49 L256.82 278.94 L255.18 277.42 L253.50 275.93 L251.80 274.48 L250.06 273.06 L248.30 271.69 L246.50 270.35 L244.68 269.05 L242.83 267.79 L240.95 266.57 L239.05 265.39 L237.12 264.25 L235.17 263.16 L233.20 262.10 L231.20 261.09 L229.18 260.12 L227.14 259.19 L225.09 258.31 L223.01 257.47 L220.92 256.67 L218.81 255.92 L216.68 255.22 L214.54 254.56 L212.39 253.95 L210.22 253.38 L208.05 252.86 L205.86 252.39 L203.66 251.96 L201.45 251.58 L199.24 251.25 L197.02 250.97 L194.79 250.73 L192.56 250.54 L190.33 250.40 L188.09 250.30 L185.85 250.26 L183.61 250.26 L181.38 250.31 L179.14 250.40 L176.90 250.55 L174.67 250.74 L172.45 250.98 L170.23 251.27 L168.01 251.60 L165.81 251.99 L163.61 252.42 L161.42 252.89 L159.25 253.41 L157.08 253.98 L154.93 254.60 L152.79 255.26 L150.67 255.97 L148.56 256.72 L146.47 257.52 L144.39 258.36 L142.33 259.24 L140.30 260.17 L138.28 261.15 L136.29 262.16 L134.31 263.22 L132.36 264.32 L130.44 265.46 L128.54 266.64 L126.66 267.87 L124.81 269.13 L122.99 270.43 L121.20 271.77 L119.43 273.15 L117.70 274.56 L116.00 276.02 L114.32 277.50 L112.68 279.03 L111.08 280.59 L109.50 282.18 L107.96 283.81 L106.46 285.46 L104.99 287.15 L103.56 288.88 L102.16 290.63 L100.81 292.41 L99.49 294.22 L98.21 296.05 L96.97 297.92 L95.77 299.81 L94.61 301.72 L93.49 303.66 L92.42 305.63 L91.88 306.66" fill="none" stroke="#063f84" stroke-width="4.75" stroke-linecap="round" stroke-linejoin="round"/>
<path d="M86.09 319.95 L86.23 318.70 L86.37 317.45 L86.53 316.21 L86.72 314.95 L86.91 313.71 L87.12 312.45 L87.34 311.21 L87.59 309.94 L87.83 308.72 L88.12 307.44 L88.39 306.22 L88.72 304.94 L89.05 303.65 L89.37 302.44 L92.11 306.22 L96.74 306.48 L95.89 307.40 L95.10 308.26 L94.31 309.14 L93.50 310.10 L92.72 311.00 L91.94 311.98 L91.18 312.91 L90.41 313.90 L89.67 314.87 L88.93 315.87 L88.21 316.87 L87.49 317.89 L86.79 318.91 L86.09 319.95Z" fill="#063f84"/>
<path d="M86.90 372.30 L86.90 407.40 L86.90 407.40 L86.95 408.89 L87.10 410.35 L87.34 411.78 L87.67 413.17 L88.10 414.53 L88.60 415.85 L89.19 417.13 L89.86 418.36 L90.60 419.54 L91.42 420.67 L92.30 421.74 L93.25 422.75 L94.26 423.70 L95.33 424.58 L96.46 425.40 L97.64 426.14 L98.87 426.81 L100.15 427.40 L101.47 427.90 L102.83 428.33 L104.22 428.66 L105.65 428.90 L107.11 429.05 L108.60 429.10 L197.60 429.10" fill="none" stroke="#063f84" stroke-width="4.10" stroke-linecap="butt" stroke-linejoin="round"/>
<path d="M215.50 429.10 L214.01 429.49 L212.53 429.89 L211.04 430.28 L209.56 430.67 L208.07 431.06 L206.59 431.46 L205.10 431.85 L203.61 432.24 L202.13 432.64 L200.64 433.03 L199.16 433.42 L197.67 433.81 L196.19 434.21 L194.70 434.60 L197.10 429.10 L194.70 423.60 L196.19 423.99 L197.67 424.39 L199.16 424.78 L200.64 425.17 L202.13 425.56 L203.61 425.96 L205.10 426.35 L206.59 426.74 L208.07 427.14 L209.56 427.53 L211.04 427.92 L212.53 428.31 L214.01 428.71 L215.50 429.10Z" fill="#063f84"/>
<path d="M61.80 395.00 L61.92 394.99 L62.05 394.98 L62.19 394.96 L62.35 394.94 L62.51 394.92 L62.69 394.89 L62.88 394.87 L63.09 394.84 L63.29 394.81 L63.51 394.79 L63.74 394.76 L63.97 394.73 L64.21 394.71 L64.45 394.68 L64.70 394.66 L64.95 394.64 L65.20 394.62 L65.46 394.60 L65.72 394.59 L65.97 394.58 L66.23 394.58 L66.49 394.58 L66.75 394.59 L67.00 394.60 L67.26 394.62 L67.52 394.63 L67.79 394.65 L68.06 394.67 L68.34 394.69 L68.62 394.72 L68.91 394.74 L69.20 394.77 L69.50 394.81 L69.79 394.84 L70.09 394.88 L70.39 394.92 L70.69 394.96 L71.00 395.01 L71.30 395.06 L71.60 395.11 L71.89 395.17 L72.19 395.24 L72.49 395.30 L72.78 395.37 L73.06 395.45 L73.35 395.53 L73.63 395.61 L73.90 395.70 L74.17 395.79 L74.44 395.89 L74.72 396.00 L74.99 396.10 L75.27 396.22 L75.54 396.33 L75.81 396.45 L76.09 396.58 L76.36 396.71 L76.62 396.84 L76.89 396.97 L77.16 397.11 L77.42 397.25 L77.68 397.40 L77.93 397.55 L78.18 397.70 L78.43 397.85 L78.67 398.01 L78.91 398.17 L79.14 398.33 L79.36 398.50 L79.58 398.66 L79.79 398.83 L80.00 399.00 L80.20 399.17 L80.39 399.35 L80.58 399.54 L80.76 399.73 L80.94 399.92 L81.11 400.12 L81.27 400.32 L81.43 400.52 L81.59 400.73 L81.74 400.94 L81.89 401.15 L82.04 401.36 L82.18 401.58 L82.32 401.79 L82.46 402.01 L82.59 402.22 L82.72 402.44 L82.85 402.65 L82.98 402.86 L83.10 403.08 L83.23 403.29 L83.35 403.49 L83.48 403.70 L83.60 403.90 L83.72 404.10 L83.84 404.30 L83.96 404.50 L84.07 404.69 L84.18 404.89 L84.29 405.08 L84.40 405.28 L84.50 405.47 L84.60 405.66 L84.70 405.86 L84.80 406.05 L84.89 406.24 L84.99 406.44 L85.08 406.63 L85.17 406.82 L85.26 407.02 L85.34 407.21 L85.43 407.41 L85.51 407.60 L85.59 407.80 L85.67 408.00 L85.75 408.20 L85.82 408.40 L85.90 408.60 L85.97 408.80 L86.04 409.01 L86.11 409.21 L86.17 409.42 L86.23 409.63 L86.29 409.84 L86.34 410.05 L86.39 410.26 L86.44 410.47 L86.49 410.68 L86.54 410.89 L86.59 411.11 L86.63 411.32 L86.68 411.53 L86.73 411.74 L86.77 411.95 L86.82 412.16 L86.87 412.37 L86.92 412.58 L86.97 412.79 L87.03 412.99 L87.08 413.20 L87.14 413.40 L87.20 413.60 L87.26 413.80 L87.33 414.01 L87.40 414.23 L87.48 414.44 L87.56 414.66 L87.64 414.89 L87.72 415.11 L87.80 415.33 L87.88 415.56 L87.97 415.78 L88.05 416.00 L88.13 416.21 L88.21 416.42 L88.29 416.63 L88.37 416.83 L88.44 417.02 L88.52 417.21 L88.59 417.38 L88.65 417.55 L88.71 417.70 L88.77 417.85 L88.82 417.98 L88.86 418.10 L88.90 418.20" fill="none" stroke="#063f84" stroke-width="4.50" stroke-linecap="round" stroke-linejoin="round"/>
<text x="23.70" y="322.90" font-size="16.00" font-weight="normal" fill="#000" stroke="#000" text-anchor="start" >AcO</text>
<line x1="55.10" y1="317.20" x2="72.40" y2="317.20" stroke="#000" stroke-width="1.45" stroke-linecap="butt"/>
<line x1="71.90" y1="316.60" x2="78.60" y2="337.60" stroke="#000" stroke-width="1.45" stroke-linecap="butt"/>
<text x="9.00" y="342.10" font-size="16.00" font-weight="normal" fill="#000" stroke="#000" text-anchor="start" >AcO</text>
<line x1="41.50" y1="334.00" x2="58.30" y2="330.60" stroke="#000" stroke-width="1.45" stroke-linecap="butt"/>
<text x="24.10" y="355.70" font-size="16.00" font-weight="normal" fill="#000" stroke="#000" text-anchor="start" >AcO</text>
<line x1="55.10" y1="351.90" x2="71.50" y2="353.50" stroke="#000" stroke-width="1.45" stroke-linecap="butt"/>
<line x1="58.30" y1="330.60" x2="78.60" y2="337.60" stroke="#000" stroke-width="1.45" stroke-linecap="butt"/>
<line x1="78.60" y1="337.60" x2="98.30" y2="332.80" stroke="#000" stroke-width="1.45" stroke-linecap="butt"/>
<text x="105.30" y="336.20" font-size="16.00" font-weight="normal" fill="#000" stroke="#000" text-anchor="middle" >O</text>
<line x1="108.70" y1="337.60" x2="117.90" y2="353.50" stroke="#000" stroke-width="1.45" stroke-linecap="butt"/>
<path d="M57.78 330.90 L69.08 354.52 L73.92 351.68 L58.82 330.30Z" fill="#000"/>
<path d="M70.50 352.90 L96.90 347.10" fill="none" stroke="#000" stroke-width="4.3" stroke-linecap="butt"/>
<path d="M95.70 349.16 L118.12 354.12 L118.48 352.88 L96.90 345.04Z" fill="#000"/>
<line x1="117.90" y1="353.50" x2="129.30" y2="348.90" stroke="#000" stroke-width="1.45" stroke-linecap="butt"/>
<text x="130.50" y="352.60" font-size="16.00" font-weight="normal" fill="#000" stroke="#000" text-anchor="start" >OMe</text>
<rect x="91.0" y="357.9" width="8.9" height="2.7" fill="#000"/>
<text x="109.00" y="379.60" font-size="16.00" font-weight="bold" fill="#0000fa" stroke="#0000fa" text-anchor="start" >Int-II</text>
<text x="294.30" y="354.50" font-size="16.00" font-weight="normal" fill="#000" stroke="#000" text-anchor="start" >AcO</text>
<line x1="325.70" y1="348.80" x2="343.00" y2="348.80" stroke="#000" stroke-width="1.45" stroke-linecap="butt"/>
<line x1="342.50" y1="348.20" x2="349.20" y2="369.20" stroke="#000" stroke-width="1.45" stroke-linecap="butt"/>
<text x="279.60" y="373.70" font-size="16.00" font-weight="normal" fill="#000" stroke="#000" text-anchor="start" >AcO</text>
<line x1="312.10" y1="365.60" x2="328.90" y2="362.20" stroke="#000" stroke-width="1.45" stroke-linecap="butt"/>
<text x="294.70" y="387.30" font-size="16.00" font-weight="normal" fill="#000" stroke="#000" text-anchor="start" >AcO</text>
<line x1="325.70" y1="383.50" x2="342.10" y2="385.10" stroke="#000" stroke-width="1.45" stroke-linecap="butt"/>
<line x1="328.90" y1="362.20" x2="349.20" y2="369.20" stroke="#000" stroke-width="1.45" stroke-linecap="butt"/>
<line x1="349.20" y1="369.20" x2="368.90" y2="364.40" stroke="#000" stroke-width="1.45" stroke-linecap="butt"/>
<text x="375.90" y="367.80" font-size="16.00" font-weight="normal" fill="#000" stroke="#000" text-anchor="middle" >O</text>
<line x1="379.30" y1="369.20" x2="388.50" y2="385.10" stroke="#000" stroke-width="1.45" stroke-linecap="butt"/>
<path d="M328.38 362.50 L339.68 386.12 L344.52 383.28 L329.42 361.90Z" fill="#000"/>
<path d="M341.10 384.50 L367.50 378.70" fill="none" stroke="#000" stroke-width="4.3" stroke-linecap="butt"/>
<path d="M366.30 380.76 L388.72 385.72 L389.08 384.48 L367.50 376.64Z" fill="#000"/>
<line x1="388.50" y1="385.10" x2="399.90" y2="380.50" stroke="#000" stroke-width="1.45" stroke-linecap="butt"/>
<text x="401.10" y="384.20" font-size="16.00" font-weight="normal" fill="#000" stroke="#000" text-anchor="start" >OMe</text>
<circle cx="367.3" cy="388.3" r="2.3" fill="#8b1550"/>
<text x="348.80" y="412.90" font-size="16.00" font-weight="bold" fill="#0000fa" stroke="#0000fa" text-anchor="start" >Int-I</text>
<text x="501.70" y="263.30" font-size="16.00" font-weight="normal" fill="#000" stroke="#000" text-anchor="start" >AcO</text>
<line x1="533.10" y1="257.60" x2="550.40" y2="257.60" stroke="#000" stroke-width="1.45" stroke-linecap="butt"/>
<line x1="549.90" y1="257.00" x2="556.60" y2="278.00" stroke="#000" stroke-width="1.45" stroke-linecap="butt"/>
<text x="487.00" y="282.50" font-size="16.00" font-weight="normal" fill="#000" stroke="#000" text-anchor="start" >AcO</text>
<line x1="519.50" y1="274.40" x2="536.30" y2="271.00" stroke="#000" stroke-width="1.45" stroke-linecap="butt"/>
<text x="502.10" y="296.10" font-size="16.00" font-weight="normal" fill="#000" stroke="#000" text-anchor="start" >AcO</text>
<line x1="533.10" y1="292.30" x2="549.50" y2="293.90" stroke="#000" stroke-width="1.45" stroke-linecap="butt"/>
<line x1="536.30" y1="271.00" x2="556.60" y2="278.00" stroke="#000" stroke-width="1.45" stroke-linecap="butt"/>
<line x1="556.60" y1="278.00" x2="576.30" y2="273.20" stroke="#000" stroke-width="1.45" stroke-linecap="butt"/>
<text x="583.30" y="276.60" font-size="16.00" font-weight="normal" fill="#000" stroke="#000" text-anchor="middle" >O</text>
<line x1="586.70" y1="278.00" x2="595.90" y2="293.90" stroke="#000" stroke-width="1.45" stroke-linecap="butt"/>
<path d="M535.78 271.30 L547.08 294.92 L551.92 292.08 L536.82 270.70Z" fill="#000"/>
<path d="M548.50 293.30 L574.90 287.50" fill="none" stroke="#000" stroke-width="4.3" stroke-linecap="butt"/>
<path d="M573.70 289.56 L596.12 294.52 L596.48 293.28 L574.90 285.44Z" fill="#000"/>
<line x1="595.90" y1="293.90" x2="607.30" y2="289.30" stroke="#000" stroke-width="1.45" stroke-linecap="butt"/>
<text x="608.50" y="293.00" font-size="16.00" font-weight="normal" fill="#000" stroke="#000" text-anchor="start" >OMe</text>
<line x1="574.60" y1="287.60" x2="581.30" y2="303.60" stroke="#000" stroke-width="1.45" stroke-linecap="butt"/>
<text x="579.20" y="315.20" font-size="16.00" font-weight="normal" fill="#000" stroke="#000" text-anchor="start" >OBz</text>
<text x="565.80" y="325.60" font-size="16.00" font-weight="bold" fill="#0000fa" stroke="#0000fa" text-anchor="start" >1a</text>
<text x="235.50" y="423.60" font-size="16.00" font-weight="normal" fill="#000" stroke="#000" text-anchor="start" >AcO</text>
<line x1="266.90" y1="417.90" x2="284.20" y2="417.90" stroke="#000" stroke-width="1.45" stroke-linecap="butt"/>
<line x1="283.70" y1="417.30" x2="290.40" y2="438.30" stroke="#000" stroke-width="1.45" stroke-linecap="butt"/>
<text x="220.80" y="442.80" font-size="16.00" font-weight="normal" fill="#000" stroke="#000" text-anchor="start" >AcO</text>
<line x1="253.30" y1="434.70" x2="270.10" y2="431.30" stroke="#000" stroke-width="1.45" stroke-linecap="butt"/>
<text x="235.90" y="456.40" font-size="16.00" font-weight="normal" fill="#000" stroke="#000" text-anchor="start" >AcO</text>
<line x1="266.90" y1="452.60" x2="283.30" y2="454.20" stroke="#000" stroke-width="1.45" stroke-linecap="butt"/>
<line x1="270.10" y1="431.30" x2="290.40" y2="438.30" stroke="#000" stroke-width="1.45" stroke-linecap="butt"/>
<line x1="290.40" y1="438.30" x2="310.10" y2="433.50" stroke="#000" stroke-width="1.45" stroke-linecap="butt"/>
<text x="317.10" y="436.90" font-size="16.00" font-weight="normal" fill="#000" stroke="#000" text-anchor="middle" >O</text>
<line x1="320.50" y1="438.30" x2="329.70" y2="454.20" stroke="#000" stroke-width="1.45" stroke-linecap="butt"/>
<path d="M269.58 431.60 L280.88 455.22 L285.72 452.38 L270.62 431.00Z" fill="#000"/>
<path d="M282.30 453.60 L308.70 447.80" fill="none" stroke="#000" stroke-width="4.3" stroke-linecap="butt"/>
<path d="M307.50 449.86 L329.92 454.82 L330.28 453.58 L308.70 445.74Z" fill="#000"/>
<line x1="329.70" y1="454.20" x2="341.10" y2="449.60" stroke="#000" stroke-width="1.45" stroke-linecap="butt"/>
<text x="342.30" y="453.30" font-size="16.00" font-weight="normal" fill="#000" stroke="#000" text-anchor="start" >OMe</text>
<line x1="307.10" y1="448.00" x2="307.10" y2="463.20" stroke="#0000fa" stroke-width="3.50" stroke-linecap="butt"/>
<text x="307.20" y="478.50" font-size="16.00" font-weight="normal" fill="#0000fa" stroke="#0000fa" text-anchor="middle" >H</text>
<text x="294.40" y="495.80" font-size="16.00" font-weight="bold" fill="#0000fa" stroke="#0000fa" text-anchor="start" >2a</text>
<text x="148.20" y="57.60" font-size="16.00" font-weight="normal" fill="#000" stroke="#000" text-anchor="start" textLength="59.9" lengthAdjust="spacing">[PTH<tspan font-weight="bold">-C]</tspan></text>
<text x="47.00" y="162.60" font-size="16.00" font-weight="normal" fill="#000" stroke="#000" text-anchor="start" textLength="59.0" lengthAdjust="spacing">[PTH<tspan font-weight="bold">-C]</tspan></text>
<text x="108.30" y="163.60" font-size="22.00" font-weight="bold" fill="#000" stroke="#000" text-anchor="start" >*</text>
<text x="239.60" y="160.80" font-size="16.00" font-weight="normal" fill="#000" stroke="#000" text-anchor="start" textLength="60.2" lengthAdjust="spacing">[PTH<tspan font-weight="bold">-C]</tspan></text>
<circle cx="300.9" cy="145.0" r="1.25" fill="#000"/>
<line x1="303.30" y1="145.70" x2="310.10" y2="145.70" stroke="#000" stroke-width="1.15" stroke-linecap="butt"/>
<line x1="306.70" y1="142.20" x2="306.70" y2="149.20" stroke="#000" stroke-width="1.15" stroke-linecap="butt"/>
<text x="257.60" y="37.40" font-size="16.00" font-weight="normal" fill="#000" stroke="#000" text-anchor="start" >H<tspan baseline-shift="7.3" font-size="12.2" stroke-width="0.9">+</tspan></text>
<text x="308.70" y="56.90" font-size="16.00" font-weight="bold" fill="#000" stroke="#000" text-anchor="start" >RS</text>
<circle cx="335.9" cy="50.1" r="2.1" fill="#8b1550"/>
<text x="309.00" y="104.80" font-size="16.00" font-weight="bold" fill="#000" stroke="#000" text-anchor="start" >RSH</text>
<text x="413.00" y="42.60" font-size="16.00" font-weight="normal" fill="#000" stroke="#000" text-anchor="start" >HCO<tspan baseline-shift="-3.3" font-size="11.7">2</tspan></text>
<line x1="452.20" y1="29.40" x2="459.10" y2="29.40" stroke="#000" stroke-width="1.20" stroke-linecap="butt"/>
<text x="424.20" y="187.20" font-size="16.00" font-weight="normal" fill="#000" stroke="#000" text-anchor="start" >CO<tspan baseline-shift="-3.3" font-size="11.7">2</tspan></text>
<line x1="451.30" y1="172.60" x2="460.00" y2="172.60" stroke="#000" stroke-width="1.20" stroke-linecap="butt"/>
<circle cx="463.5" cy="172.6" r="1.7" fill="#000"/>
<text x="293.40" y="264.40" font-size="16.00" font-weight="normal" fill="#000" stroke="#000" text-anchor="start" letter-spacing="0.2">BzOH /</text>
<text x="293.00" y="286.30" font-size="16.00" font-weight="normal" fill="#000" stroke="#000" text-anchor="start" letter-spacing="0.15">(BzO)<tspan baseline-shift="-3.3" font-size="11.7">2</tspan>Zn</text>
<text x="374.60" y="271.30" font-size="16.00" font-weight="normal" fill="#000" stroke="#000" text-anchor="start" >CO<tspan baseline-shift="-3.3" font-size="11.7">2</tspan></text>
<text x="468.60" y="339.60" font-size="16.00" font-weight="normal" fill="#000" stroke="#000" text-anchor="start" >H<tspan baseline-shift="6.4" font-size="12.2" stroke-width="0.45">+</tspan> / Zn<tspan baseline-shift="6.4" font-size="12.2" stroke-width="0.45">2+</tspan></text>
<text x="40.40" y="400.60" font-size="16.00" font-weight="normal" fill="#000" stroke="#000" text-anchor="start" >H<tspan baseline-shift="6.8" font-size="12.2" stroke-width="0.9">+</tspan></text>
<rect x="510.15" y="37.95" width="127.35" height="44.4" fill="#fff" stroke="#874248" stroke-width="1.35"/>
<text x="523.00" y="67.40" font-size="16.00" font-weight="bold" fill="#000" stroke="#000" text-anchor="start" letter-spacing="0.16">RSH = mesna</text>
</svg>
</body></html>
